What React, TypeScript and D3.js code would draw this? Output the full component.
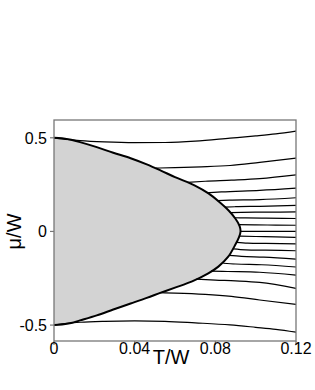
import React from "react";
import * as d3 from "d3";

// Phase boundary (T/W, mu/W), ordered by mu from -0.5 to 0.5
const boundaryT = [0, 0.004, 0.0085, 0.0129, 0.0212, 0.0294, 0.038, 0.046, 0.053, 0.06, 0.0682, 0.0765, 0.0815, 0.0864, 0.0897, 0.0917, 0.0925,
  0.092, 0.09, 0.0866, 0.0817, 0.0766, 0.0699, 0.06, 0.053, 0.046, 0.038, 0.0294, 0.0212, 0.0129, 0.0085, 0.004, 0];
const boundaryMu = [-0.5, -0.497, -0.489, -0.475, -0.448, -0.417, -0.385, -0.355, -0.327, -0.3, -0.268, -0.224, -0.188, -0.135, -0.075, -0.032, 0,
  0.03, 0.068, 0.112, 0.16, 0.203, 0.245, 0.29, 0.325, 0.358, 0.391, 0.42, 0.45, 0.477, 0.489, 0.497, 0.5];

// Flow lines: [T/W, mu/W] points
const lineTop: [number, number][] = [[0, 0.5], [0.004, 0.494], [0.0129, 0.485], [0.025, 0.478], [0.04, 0.474], [0.055, 0.475], [0.07, 0.482], [0.0873, 0.498], [0.1, 0.51], [0.11, 0.521], [0.12, 0.536]];
const lineU8: [number, number][] = [[0.0505, 0.338], [0.06, 0.341], [0.073, 0.345], [0.0873, 0.352], [0.102, 0.369], [0.12, 0.391]];
const lineU7: [number, number][] = [[0.0662, 0.262], [0.075, 0.268], [0.088, 0.274], [0.102, 0.282], [0.12, 0.302]];
const lineU6: [number, number][] = [[0.076, 0.206], [0.083, 0.211], [0.102, 0.219], [0.12, 0.231]];
const lineU5: [number, number][] = [[0.0811, 0.165], [0.087, 0.167], [0.102, 0.17], [0.12, 0.18]];
const lineU4: [number, number][] = [[0.0848, 0.13], [0.09, 0.132], [0.102, 0.134], [0.12, 0.139]];
const lineU3: [number, number][] = [[0.0877, 0.1], [0.093, 0.102], [0.105, 0.103], [0.12, 0.104]];
const lineU2: [number, number][] = [[0.0898, 0.073], [0.095, 0.072], [0.105, 0.071], [0.12, 0.069]];
const lineU1: [number, number][] = [[0.0916, 0.036], [0.1, 0.035], [0.11, 0.034], [0.12, 0.033]];
const lineMid: [number, number][] = [[0.0925, 0], [0.1, 0], [0.11, 0], [0.12, 0]];
const lineL1: [number, number][] = [[0.092, -0.025], [0.1, -0.027], [0.11, -0.029], [0.12, -0.032]];
const lineL2: [number, number][] = [[0.0905, -0.058], [0.096, -0.062], [0.105, -0.064], [0.12, -0.066]];
const lineL3: [number, number][] = [[0.0889, -0.093], [0.095, -0.098], [0.105, -0.1], [0.12, -0.103]];
const lineL4: [number, number][] = [[0.0868, -0.128], [0.093, -0.133], [0.104, -0.137], [0.12, -0.148]];
const lineL5: [number, number][] = [[0.0839, -0.17], [0.09, -0.174], [0.103, -0.178], [0.12, -0.19]];
const lineL6: [number, number][] = [[0.0779, -0.212], [0.086, -0.214], [0.102, -0.218], [0.12, -0.233]];
const lineL7: [number, number][] = [[0.0706, -0.255], [0.08, -0.26], [0.09, -0.264], [0.102, -0.272], [0.12, -0.304]];
const lineL8: [number, number][] = [[0.0525, -0.327], [0.06, -0.329], [0.075, -0.336], [0.088, -0.347], [0.102, -0.366], [0.12, -0.39]];
const lineBottom: [number, number][] = [[0, -0.5], [0.004, -0.494], [0.0129, -0.485], [0.025, -0.48], [0.04, -0.478], [0.055, -0.48], [0.07, -0.488], [0.0873, -0.499], [0.1, -0.512], [0.11, -0.523], [0.12, -0.538]];

const flowLines = [lineTop, lineU8, lineU7, lineU6, lineU5, lineU4, lineU3, lineU2, lineU1, lineMid,
  lineL1, lineL2, lineL3, lineL4, lineL5, lineL6, lineL7, lineL8, lineBottom];

const xTicks = [0, 0.04, 0.08, 0.12];
const xTickLabels = ["0", "0.04", "0.08", "0.12"];
const yTicks = [0.5, 0, -0.5];
const yTickLabels = ["0.5", "0", "-0.5"];

const W = 315, H = 390;
const left = 54, right = 296, top = 120, bottom = 341;
const font = "Liberation Sans, Arial, Helvetica, sans-serif";

export default function App() {
  const x = d3.scaleLinear().domain([0, 0.12]).range([left, right]);
  const y = d3.scaleLinear().domain([-0.585, 0.595]).range([bottom, top]);

  const boundaryPts: [number, number][] = boundaryT.map((t, i) => [t, boundaryMu[i]]);
  const bLine = d3.line<[number, number]>().x(d => x(d[0])).y(d => y(d[1])).curve(d3.curveCatmullRom.alpha(0.5));
  const boundaryPath = bLine(boundaryPts) || "";
  const fillPath = boundaryPath + `L${x(0)},${y(-0.5)}Z`;

  const fLine = d3.line<[number, number]>().x(d => x(d[0])).y(d => y(d[1])).curve(d3.curveMonotoneX);
  const axisColor = "#777";

  return (
    <svg width={W} height={H} style={{ position: "absolute", left: 0, top: 0, background: "#fff" }}>
      <defs>
        <clipPath id="plot">
          <rect x={left} y={top} width={right - left} height={bottom - top} />
        </clipPath>
      </defs>
      <g clipPath="url(#plot)">
        <path d={fillPath} fill="#d3d3d3" stroke="none" />
        {flowLines.map((ln, i) => (
          <path key={i} d={fLine(ln) || ""} fill="none" stroke="#000" strokeWidth={1.2} />
        ))}
        <path d={boundaryPath} fill="none" stroke="#000" strokeWidth={2} />
      </g>
      <rect x={left} y={top} width={right - left} height={bottom - top} fill="none" stroke={axisColor} strokeWidth={1.3} />
      {xTicks.map((t, i) => (
        <g key={i}>
          <line x1={x(t)} x2={x(t)} y1={bottom} y2={bottom + 4} stroke={axisColor} strokeWidth={1.2} />
          <text x={x(t)} y={354} textAnchor="middle" fontFamily={font} fontSize={16} fill="#000">{xTickLabels[i]}</text>
        </g>
      ))}
      {yTicks.map((v, i) => (
        <g key={i}>
          <line x1={left - 4} x2={left} y1={y(v)} y2={y(v)} stroke={axisColor} strokeWidth={1.2} />
          <text x={47} y={y(v)} dy="0.36em" textAnchor="end" fontFamily={font} fontSize={16} fill="#000">{yTickLabels[i]}</text>
        </g>
      ))}
      <text x={171} y={364} textAnchor="middle" fontFamily={font} fontSize={20} fill="#000">T/W</text>
      <text transform={`translate(21,${y(0)}) rotate(-90)`} textAnchor="middle" fontFamily={font} fontSize={20} fill="#000">μ/W</text>
    </svg>
  );
}
